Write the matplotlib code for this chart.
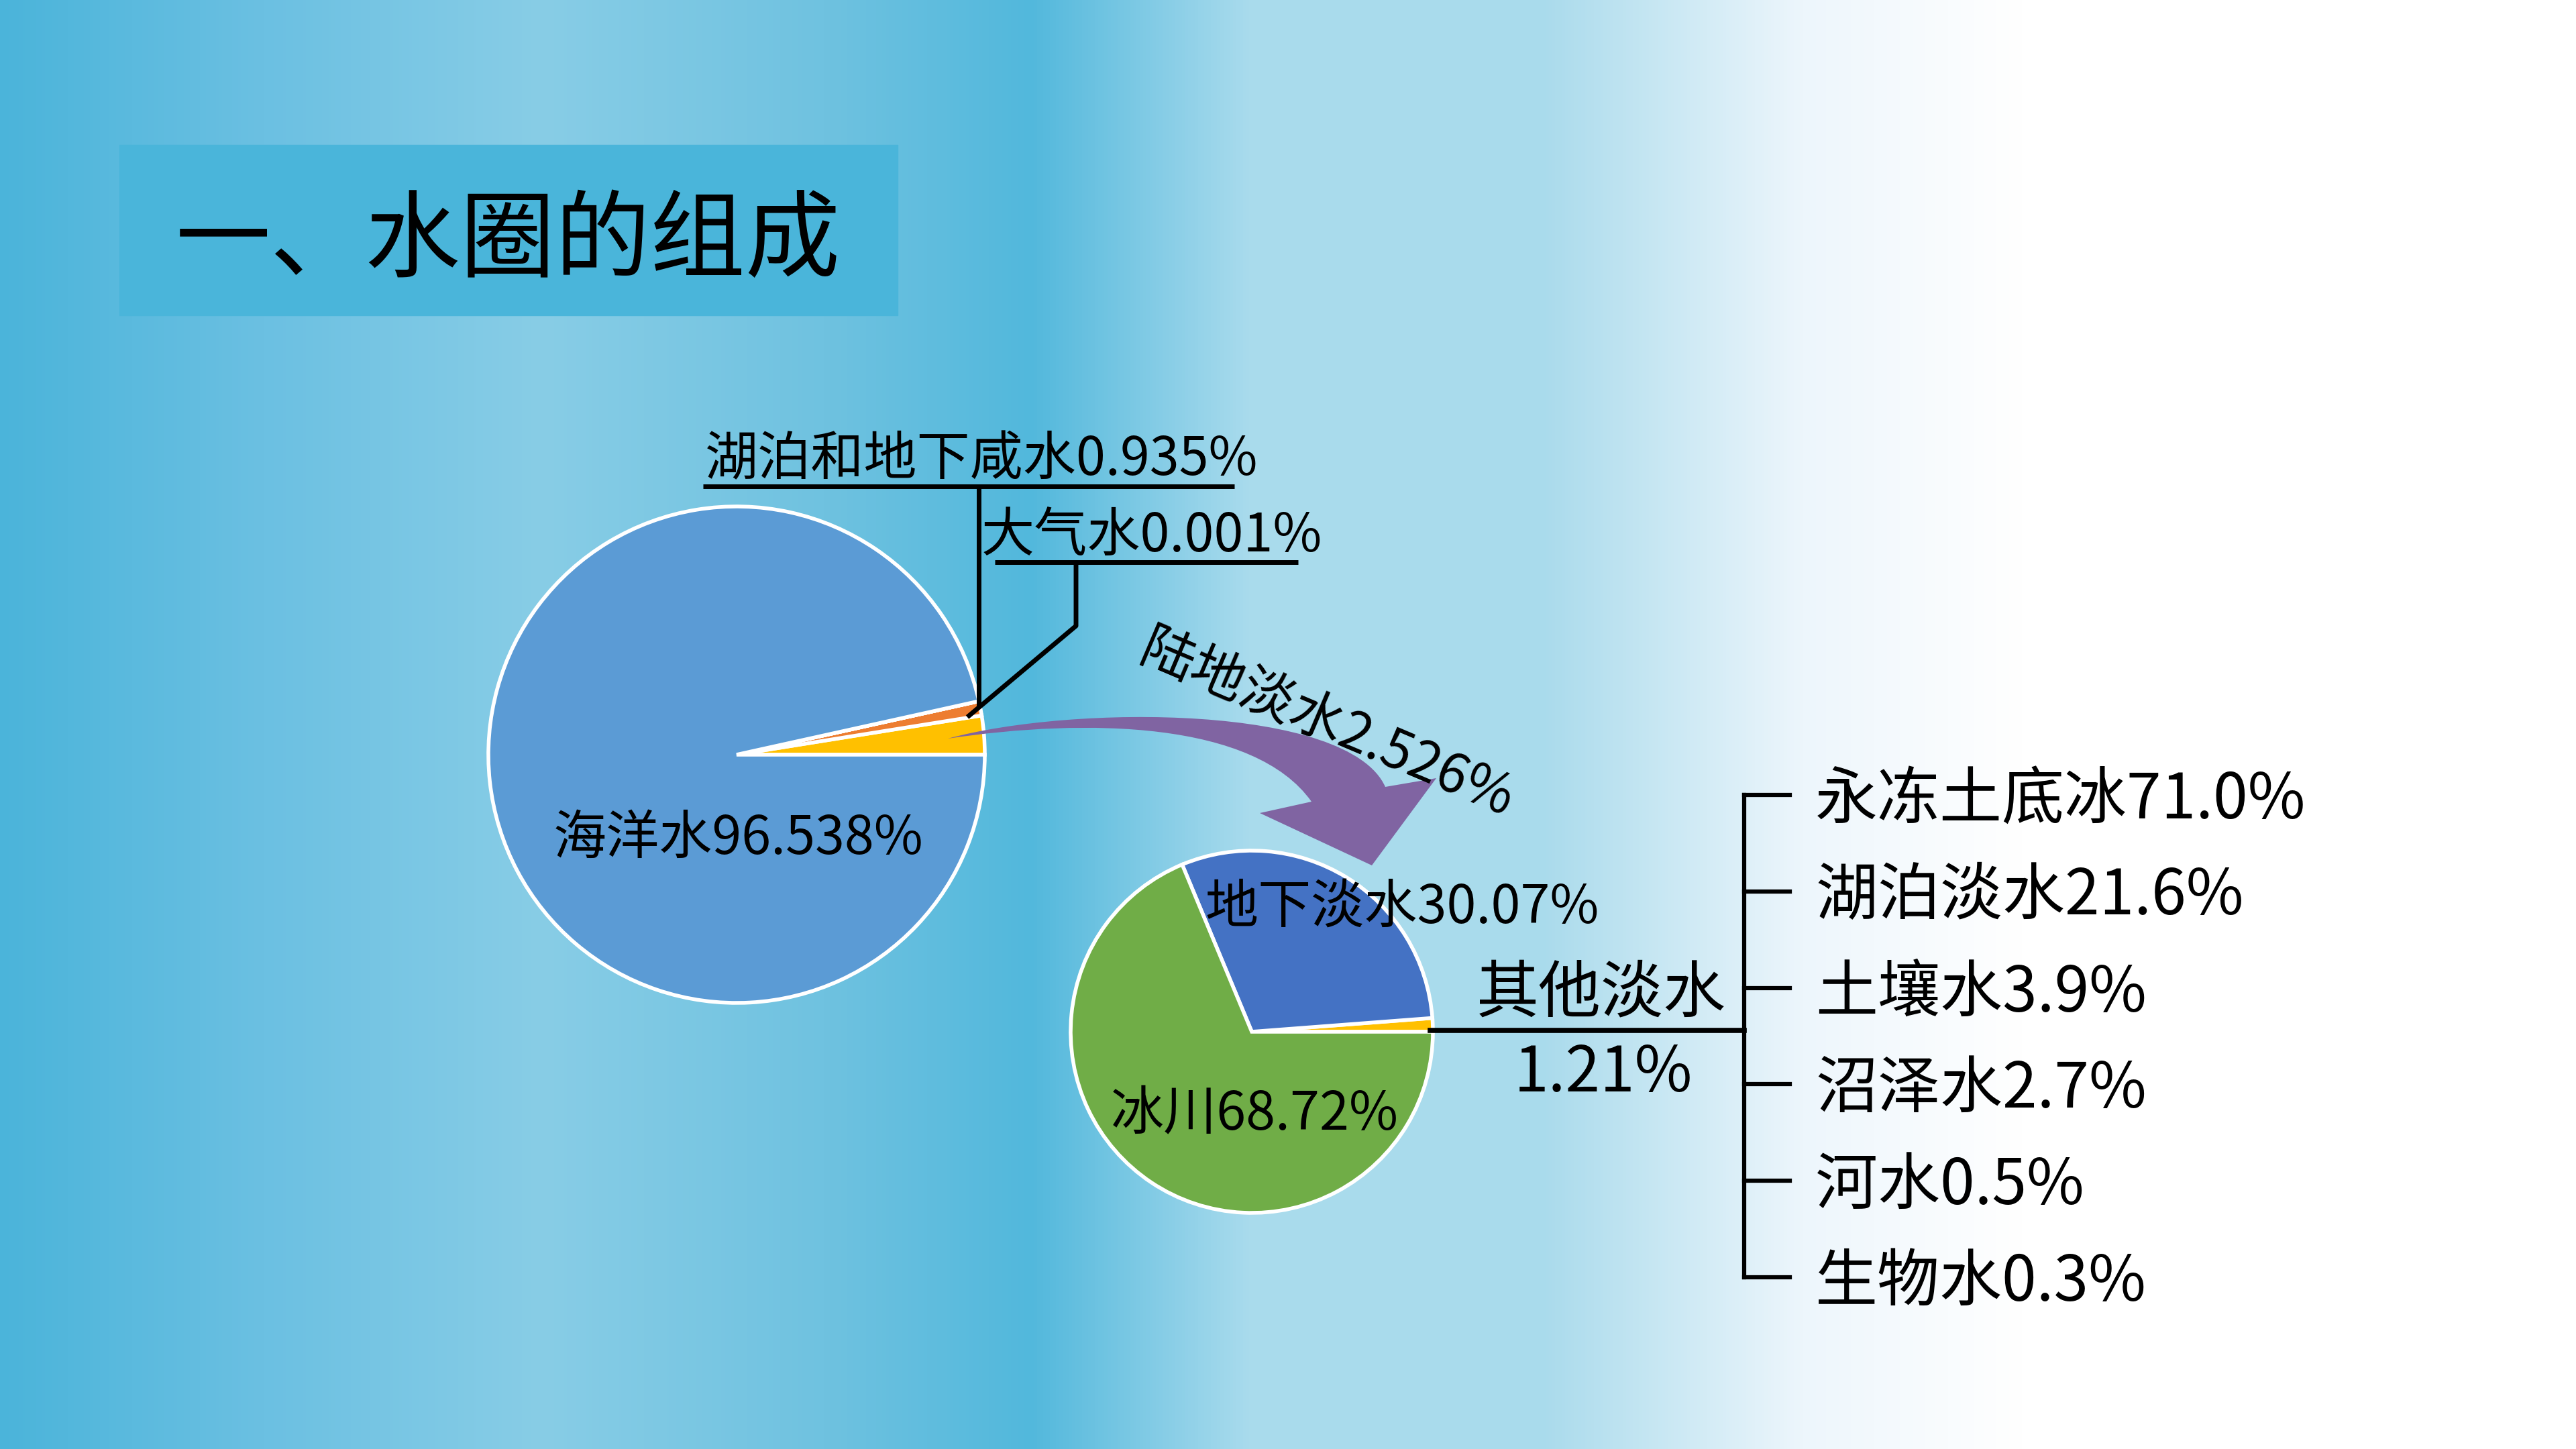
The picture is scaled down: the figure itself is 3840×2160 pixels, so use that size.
import numpy as np
import matplotlib
matplotlib.use('Agg')
import matplotlib.pyplot as plt
from matplotlib.path import Path
from matplotlib.patches import PathPatch, Rectangle

plt.rcParams['font.family'] = ['Noto Sans CJK SC', 'DejaVu Sans']

# data (%), pie order starts at 3 o'clock and goes counter-clockwise
water_names = ['陆地淡水', '湖泊和地下咸水', '大气水', '海洋水']
water_values = [2.526, 0.935, 0.001, 96.538]
water_colors = ['#FFC000', '#ED7D31', '#A5A5A5', '#5B9BD5']

fresh_names = ['其他淡水', '地下淡水', '冰川']
fresh_values = [1.21, 30.07, 68.72]
fresh_colors = ['#FFC000', '#4472C4', '#70AD47']

other_names = ['永冻土底冰', '湖泊淡水', '土壤水', '沼泽水', '河水', '生物水']
other_values = [71.0, 21.6, 3.9, 2.7, 0.5, 0.3]

W, H = 3840, 2160
fig = plt.figure(figsize=(W / 100, H / 100), dpi=100)
ax = fig.add_axes([0, 0, 1, 1])

# background gradient
stops = [0, 0.102, 0.21, 0.32, 0.40, 0.485, 0.60, 0.70, 0.785, 1.0]
cols = np.array([(75, 180, 218), (107, 192, 226), (136, 205, 230), (111, 194, 224),
                 (82, 184, 220), (169, 219, 237), (170, 219, 236), (237, 246, 252),
                 (255, 255, 255), (255, 255, 255)]) / 255
xs = np.linspace(0, 1, 800)
grad = np.stack([np.interp(xs, stops, cols[:, i]) for i in range(3)], axis=-1)
ax.imshow(grad[np.newaxis, :, :], extent=(0, W, H, 0), aspect='auto', zorder=0)

# title box
ax.add_patch(Rectangle((178, 216), 1160, 254, color='#4AB5DA', zorder=1))
ax.text(262, 362, '一、水圈的组成', fontsize=102, ha='left', va='center', zorder=5)

# big pie (y axis is inverted, so counterclock=False looks counter-clockwise)
wedge_kw = dict(edgecolor='white', linewidth=4)
ax.pie(water_values, colors=water_colors, startangle=0, counterclock=False,
       center=(1098, 1125), radius=370, wedgeprops=wedge_kw)
ax.pie(fresh_values, colors=fresh_colors, startangle=0, counterclock=False,
       center=(1866, 1538), radius=270, wedgeprops=wedge_kw)

lab = 57
ax.text(1101, 1250, f'{water_names[3]}{water_values[3]}%', fontsize=lab,
        ha='center', va='center', zorder=5)
ax.text(1463, 686, f'{water_names[1]}{water_values[1]}%', fontsize=lab,
        ha='center', va='center', zorder=5)
ax.text(1717, 800, f'{water_names[2]}{water_values[2]}%', fontsize=lab,
        ha='center', va='center', zorder=5)

# leader lines
lk = dict(color='black', lw=5, zorder=4, solid_capstyle='butt')
ax.plot([1048, 1840], [725, 725], **lk)
ax.plot([1459, 1459], [725, 1052], **lk)
ax.plot([1483, 1935], [838, 838], **lk)
ax.plot([1604, 1604, 1442], [838, 933, 1069], **lk)

# curved arrow from the land-freshwater wedge to the second pie
verts = [(1413, 1101), (1600, 1050), (2010, 1050), (2065, 1173),
         (2141, 1160), (2045, 1290), (1878, 1212), (1955, 1195),
         (1870, 1075), (1620, 1070), (1413, 1101), (1413, 1101)]
codes = [Path.MOVETO, Path.CURVE4, Path.CURVE4, Path.CURVE4,
         Path.LINETO, Path.LINETO, Path.LINETO, Path.LINETO,
         Path.CURVE4, Path.CURVE4, Path.CURVE4, Path.CLOSEPOLY]
ax.add_patch(PathPatch(Path(verts, codes), facecolor='#8064A2', edgecolor='none', zorder=3))
ax.text(1978, 1080, f'{water_names[0]}{water_values[0]}%', fontsize=58,
        rotation=-23, rotation_mode='anchor', ha='center', va='center', zorder=5)

# second pie labels
ax.text(2090, 1353, f'{fresh_names[1]}{fresh_values[1]}%', fontsize=lab,
        ha='center', va='center', zorder=5)
ax.text(1870, 1662, f'{fresh_names[2]}{fresh_values[2]}%', fontsize=lab,
        ha='center', va='center', zorder=5)
ax.text(2387, 1482, fresh_names[0], fontsize=67, ha='center', va='center', zorder=5)
ax.text(2390, 1600, f'{fresh_values[0]}%', fontsize=67, ha='center', va='center', zorder=5)

# bracket with the breakdown of other freshwater
ax.plot([2132, 2600], [1536, 1536], color='black', lw=5.5, zorder=4)
ys = 1185 + 143.8 * np.arange(len(other_names))
ax.plot([2600, 2600], [ys[0], ys[-1]], color='black', lw=4.5, zorder=4)
for y, name, v in zip(ys, other_names, other_values):
    ax.plot([2600, 2668], [y, y], color='black', lw=4.5, zorder=4)
    ax.text(2706, y + 8, f'{name}{v}%', fontsize=67, ha='left', va='center', zorder=5)

ax.set_xlim(0, W)
ax.set_ylim(H, 0)
ax.set_aspect('auto')
ax.axis('off')

fig.savefig('out.png', dpi=100)
